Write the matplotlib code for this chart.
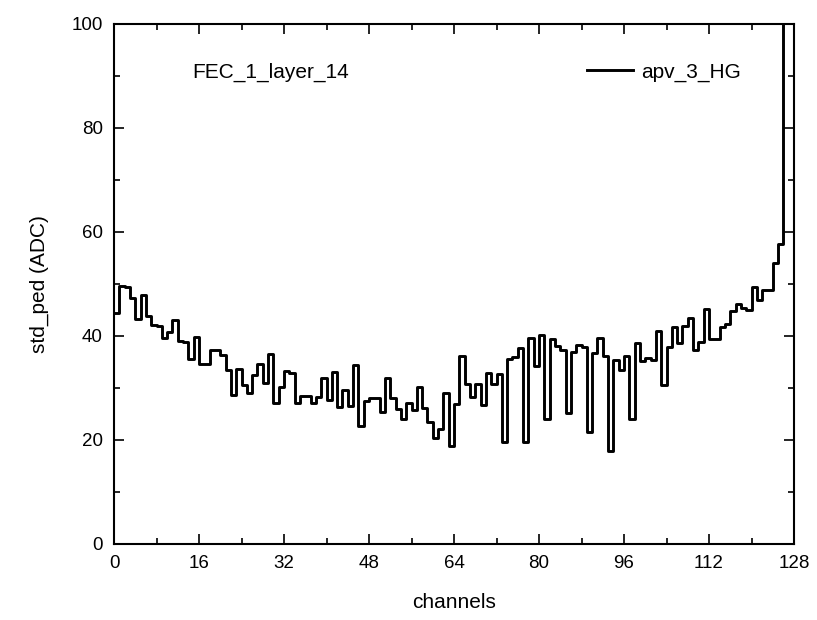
import numpy as np
import matplotlib
matplotlib.use('Agg')
import matplotlib.pyplot as plt
from matplotlib.ticker import MultipleLocator

# std of pedestal per channel (ADC)
std_ped = [
    44.4, 49.6, 49.5, 47.4, 43.2, 47.8, 43.9, 42.1, 41.9, 39.7,
    40.8, 43.1, 39.0, 38.9, 35.5, 39.9, 34.6, 34.6, 37.3, 37.3,
    36.3, 33.5, 28.7, 33.6, 30.6, 29.0, 32.5, 34.7, 31.0, 36.5,
    27.2, 30.1, 33.3, 32.8, 27.2, 28.5, 28.5, 27.2, 28.2, 31.9,
    27.7, 33.1, 26.3, 29.7, 26.5, 34.5, 22.6, 27.5, 28.0, 28.0,
    25.3, 31.9, 28.1, 25.9, 24.0, 27.1, 25.8, 30.1, 26.1, 23.5,
    20.3, 22.1, 29.0, 18.8, 27.0, 36.1, 30.8, 28.2, 30.8, 26.7,
    32.9, 30.8, 32.7, 19.7, 35.5, 36.0, 37.7, 19.7, 39.7, 34.3,
    40.2, 24.1, 39.5, 38.1, 37.4, 25.1, 37.0, 38.2, 37.9, 21.5,
    36.8, 39.7, 36.1, 17.9, 35.3, 33.4, 36.1, 24.0, 38.7, 35.2,
    35.7, 35.3, 41.0, 30.5, 37.9, 41.7, 38.7, 41.9, 43.5, 37.3,
    38.8, 45.1, 39.4, 39.5, 41.7, 42.4, 44.8, 46.2, 45.3, 45.0,
    49.5, 47.0, 48.8, 48.8, 54.0, 57.7, 150.0, 140.0,
]
channels = np.arange(len(std_ped) + 1)

plt.rcParams['font.family'] = ['Liberation Sans', 'DejaVu Sans']

fig = plt.figure(figsize=(8.17, 6.2), dpi=100)
ax = fig.add_axes([114 / 817, 1 - 544 / 620, 680 / 817, 520 / 620])

y = np.append(std_ped, std_ped[-1])
ax.step(channels, y, where='post', color='k', lw=2.1, label='apv_3_HG')

ax.set_xlim(0, 128)
ax.set_ylim(0, 100)
ax.xaxis.set_major_locator(MultipleLocator(16))
ax.xaxis.set_minor_locator(MultipleLocator(8))
ax.yaxis.set_major_locator(MultipleLocator(20))
ax.yaxis.set_minor_locator(MultipleLocator(10))
ax.tick_params(which='both', direction='in', top=True, right=True,
               width=1.2, labelsize=13.5, colors='k')
ax.tick_params(which='major', length=7, pad=8)
ax.tick_params(which='minor', length=4)
for s in ax.spines.values():
    s.set_linewidth(1.5)

ax.set_xlabel('channels', fontsize=15, labelpad=15)
ax.set_ylabel('std_ped (ADC)', fontsize=15, labelpad=16)

ax.text(0.1147, 0.9077, 'FEC_1_layer_14', transform=ax.transAxes,
        fontsize=15, va='center', ha='left')
ax.legend(loc='center right', bbox_to_anchor=(0.922, 0.9077), frameon=False,
          fontsize=15, handlelength=2.2, handletextpad=0.4,
          borderaxespad=0, borderpad=0)

fig.savefig('out.png', dpi=100)
